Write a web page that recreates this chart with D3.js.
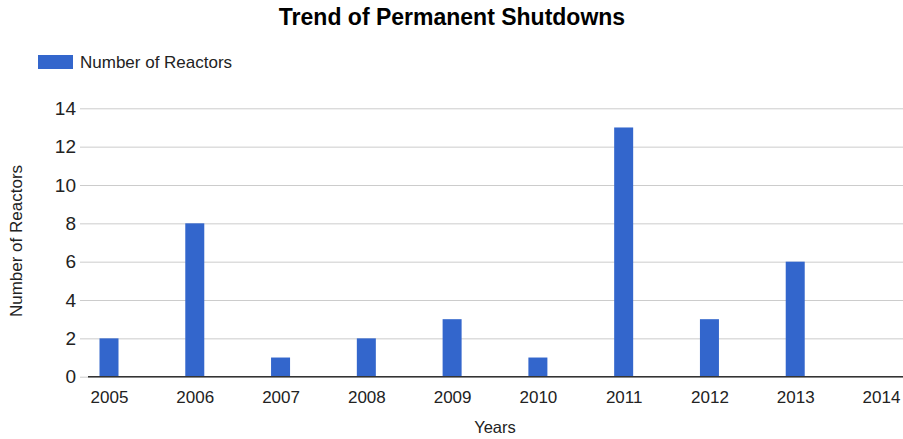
<!DOCTYPE html>
<html><head><meta charset="utf-8">
<script src="https://cdn.jsdelivr.net/npm/d3@7/dist/d3.min.js"></script>
<style>body{margin:0;background:#fff;} text{font-family:"Liberation Sans",Arial,sans-serif;}</style>
</head><body><svg id="c" width="903" height="439"></svg>
<script>
const years = ["2005","2006","2007","2008","2009","2010","2011","2012","2013","2014"];
const reactors = [2, 8, 1, 2, 3, 1, 13, 3, 6, 0];
const yTicks = [0, 2, 4, 6, 8, 10, 12, 14];
const seriesName = "Number of Reactors";

const svg = d3.select("#c");
const plotL = 88, plotR = 903, plotT = 108.3, plotB = 376.7;
const x = d3.scalePoint().domain(years).range([109, 881]);
const y = d3.scaleLinear().domain([0, 14]).range([plotB, plotT]);
const barW = 19;

svg.append("text").attr("x", 452).attr("y", 25).attr("text-anchor", "middle")
  .attr("font-size", 23).attr("font-weight", "bold").attr("fill", "#000")
  .text("Trend of Permanent Shutdowns");

// legend
svg.append("rect").attr("x", 38).attr("y", 55).attr("width", 35).attr("height", 14).attr("fill", "#3366cc");
svg.append("text").attr("x", 80).attr("y", 68).attr("font-size", 17).attr("fill", "#222").text(seriesName);

// gridlines
const ga = d3.axisLeft(y).tickValues(yTicks).tickSize(-(plotR - 80)).tickFormat(d => d).tickPadding(4);
const gy = svg.append("g").attr("transform", `translate(80,0)`).call(ga);
gy.select(".domain").remove();
gy.selectAll(".tick line").attr("stroke", "#cccccc").attr("stroke-width", 1);
gy.selectAll(".tick text").attr("font-size", 19).attr("fill", "#222")
  .attr("font-family", "'Liberation Sans',Arial,sans-serif");

// bars
svg.append("g").selectAll("rect").data(years).join("rect")
  .attr("x", (d) => x(d) - barW / 2)
  .attr("y", (d, i) => y(reactors[i]))
  .attr("width", barW)
  .attr("height", (d, i) => plotB - y(reactors[i]))
  .attr("fill", "#3366cc");

// x axis
const xa = d3.axisBottom(x).tickSize(0).tickPadding(14);
const gx = svg.append("g").attr("transform", `translate(0,${plotB})`).call(xa);
gx.select(".domain").remove();
gx.selectAll(".tick text").attr("font-size", 17).attr("fill", "#222")
  .attr("font-family", "'Liberation Sans',Arial,sans-serif");
svg.append("line").attr("x1", plotL).attr("x2", plotR).attr("y1", plotB).attr("y2", plotB)
  .attr("stroke", "#333").attr("stroke-width", 1.5);

// axis titles
svg.append("text").attr("x", 495).attr("y", 433).attr("text-anchor", "middle")
  .attr("font-size", 16.5).attr("fill", "#222").text("Years");
svg.append("text").attr("transform", "translate(22,241) rotate(-90)").attr("text-anchor", "middle")
  .attr("font-size", 17).attr("fill", "#222").text("Number of Reactors");
</script></body></html>
